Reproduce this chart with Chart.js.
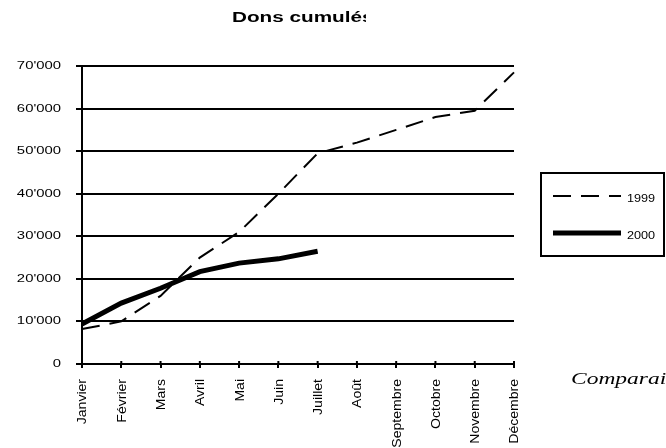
<!DOCTYPE html>
<html>
<head>
<meta charset="utf-8">
<script src="https://cdn.jsdelivr.net/npm/chart.js@4/dist/chart.umd.min.js"></script>
<style>
  html, body { margin: 0; padding: 0; background: #fff; }
  #wrap { width: 666px; height: 448px; position: relative; }
</style>
</head>
<body>
<div id="wrap"><canvas id="c" width="666" height="448"></canvas></div>
<script>
// Months on the x axis
const months = ['Janvier', 'Février', 'Mars', 'Avril', 'Mai', 'Juin', 'Juillet',
                'Août', 'Septembre', 'Octobre', 'Novembre', 'Décembre'];
// Cumulated donations per year
const dons1999 = [8200, 10000, 16000, 25000, 31000, 40000, 49500, 52000, 55000, 58000, 59500, 68500];
const dons2000 = [9400, 14300, 17800, 21700, 23700, 24700, 26500];
// Y axis range
const yMin = 0, yMax = 70000, yStep = 10000;
const titleText = 'Dons cumulés';
const noteText = 'Comparaison';

const fmt = v => v === 0 ? '0' : String(v).replace(/\B(?=(\d{3})+(?!\d))/g, "'");
const SANS = '"Liberation Sans", Arial, sans-serif';

// Title, axis labels, framed legend and side note
const decor = {
  id: 'decor',
  afterDraw(chart) {
    const ctx = chart.ctx;
    const xs = chart.scales.x, ys = chart.scales.y;

    // title, stretched and cut on its right side
    ctx.save();
    ctx.beginPath();
    ctx.rect(0, 0, 366, 40);
    ctx.clip();
    ctx.font = 'bold 14px ' + SANS;
    ctx.fillStyle = '#000';
    ctx.textBaseline = 'alphabetic';
    const w = ctx.measureText(titleText.slice(0, -1)).width;
    ctx.translate(232, 22);
    ctx.scale(130 / w, 1);
    ctx.fillText(titleText, 0, 0);
    ctx.restore();

    // y tick labels, widened
    ctx.save();
    ctx.font = '11px ' + SANS;
    ctx.fillStyle = '#000';
    ctx.textAlign = 'right';
    ctx.textBaseline = 'middle';
    ys.ticks.forEach((t, i) => {
      const y = ys.getPixelForTick(i);
      ctx.save();
      ctx.translate(61, y);
      ctx.scale(1.35, 1);
      ctx.fillText(fmt(t.value), 0, 0);
      ctx.restore();
    });
    ctx.restore();

    // x tick marks crossing the axis, and vertical month labels
    ctx.save();
    ctx.strokeStyle = '#000';
    ctx.lineWidth = 2;
    const bottom = chart.chartArea.bottom;
    months.forEach((m, i) => {
      const x = xs.getPixelForTick(i);
      ctx.beginPath();
      ctx.moveTo(x, bottom - 3);
      ctx.lineTo(x, bottom);
      ctx.stroke();
    });
    ctx.font = '12px ' + SANS;
    ctx.fillStyle = '#000';
    months.forEach((m, i) => {
      const x = xs.getPixelForTick(i);
      ctx.save();
      ctx.translate(x + 1, 379);
      ctx.rotate(-Math.PI / 2);
      ctx.scale(1.17, 1.05);
      ctx.textAlign = 'right';
      ctx.textBaseline = 'middle';
      ctx.fillText(m, 0, 0);
      ctx.restore();
    });
    ctx.restore();

    // legend box
    ctx.save();
    ctx.strokeStyle = '#000';
    ctx.lineWidth = 2;
    ctx.strokeRect(541, 173, 123, 83);
    const rows = [196, 233];
    ctx.font = '11px ' + SANS;
    ctx.fillStyle = '#000';
    ctx.textBaseline = 'middle';
    chart.data.datasets.forEach((ds, i) => {
      const y = rows[i];
      ctx.beginPath();
      ctx.lineWidth = ds.borderWidth;
      ctx.setLineDash(ds.borderDash || []);
      ctx.moveTo(553, y);
      ctx.lineTo(621, y);
      ctx.stroke();
      ctx.setLineDash([]);
      ctx.save();
      ctx.translate(627, y + 3);
      ctx.scale(1.15, 1);
      ctx.fillText(ds.label, 0, 0);
      ctx.restore();
    });
    ctx.restore();

    // side note, widened
    ctx.save();
    ctx.font = 'italic 17px "Liberation Serif", "Times New Roman", serif';
    ctx.fillStyle = '#000';
    ctx.textBaseline = 'alphabetic';
    ctx.translate(571, 384);
    ctx.scale(1.38, 1);
    ctx.fillText(noteText, 0, 0);
    ctx.restore();
  }
};

new Chart(document.getElementById('c'), {
  type: 'line',
  data: {
    labels: months,
    datasets: [
      { label: '1999', data: dons1999, borderColor: '#000', borderWidth: 2,
        borderDash: [18, 10], pointRadius: 0, tension: 0, fill: false },
      { label: '2000', data: dons2000, borderColor: '#000', borderWidth: 5,
        pointRadius: 0, tension: 0, fill: false, borderCapStyle: 'butt' }
    ]
  },
  options: {
    responsive: false,
    animation: false,
    devicePixelRatio: 1,
    layout: { padding: { top: 66, right: 152, left: 0, bottom: 0 } },
    plugins: { legend: { display: false }, title: { display: false }, tooltip: { enabled: false } },
    scales: {
      x: {
        offset: false,
        afterFit(s) { s.height = 84; },
        grid: { drawOnChartArea: false, drawTicks: true, tickLength: 4, color: '#000', lineWidth: 2 },
        border: { display: true, color: '#000', width: 2 },
        ticks: { display: false }
      },
      y: {
        min: yMin, max: yMax,
        afterFit(s) { s.width = 82; },
        grid: { color: '#000', lineWidth: 2, tickLength: 6, drawTicks: true },
        border: { display: true, color: '#000', width: 2 },
        ticks: { stepSize: yStep, display: false }
      }
    }
  },
  plugins: [decor]
});
</script>
</body>
</html>
